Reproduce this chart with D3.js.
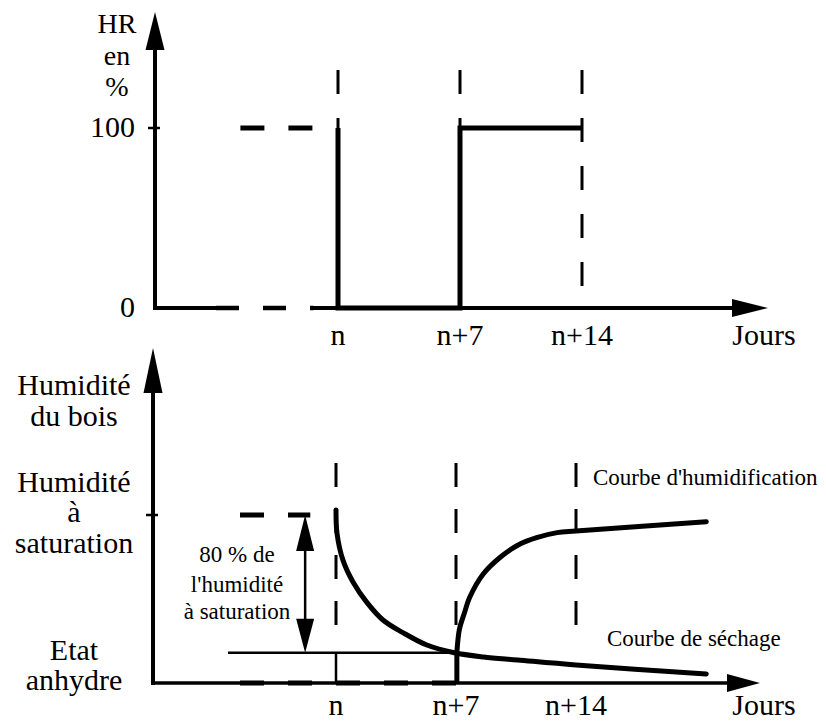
<!DOCTYPE html>
<html>
<head>
<meta charset="utf-8">
<script src="https://cdn.jsdelivr.net/npm/d3@7/dist/d3.min.js"></script>
<style>
  html, body { margin: 0; padding: 0; background: #fff; }
  svg { display: block; }
</style>
</head>
<body>
<script>
// ---------- DATA ----------
const tickDays = [0, 7, 14];
const tickLabels = ["n", "n+7", "n+14"];
const axisXLabel = "Jours";

// Top chart: relative humidity (HR en %)
const hrYTicks = [0, 100];
const hrDays = [0, 0, 7, 7, 14];
const hrValues = [100, 0, 0, 100, 100];
const hrBeforeDays = [-5.6, -1.4];        // dashed 100 % before n
const hrBeforeValues = [100, 100];
const hrZeroBeforeDays = [-7.0, -1.4];    // dashed 0 % before n
const hrZeroBeforeValues = [0, 0];

// Bottom chart: wood moisture (% of saturation moisture)
const woodSatValue = 100;
const woodThreshold = 18;                 // level after 80 % loss
const dryDays =   [0, 0.06, 0.41, 1.0, 1.8, 2.74, 3.9, 5.3, 6.9, 8.6, 10.6, 14, 21.6];
const dryValues = [103, 89, 73, 60, 48, 37.5, 30, 22.6, 18, 15.5, 13.7, 10.7, 5.4];
const wetJumpDays = [7.05, 7.05];
const wetJumpValues = [0, 18];
const wetDays =   [7.05, 7.2, 7.5, 7.8, 8.6, 9.6, 10.6, 11.7, 12.9, 14, 21.6];
const wetValues = [18, 32, 42, 51, 65, 75, 82, 86.5, 89.5, 90.5, 96];
const baseDashDays = [-5.6, 7.05];
const satDashDays = [-5.6, -1.5];
const thresholdDays = [-6.3, 7.05];
const arrowDay = -1.8;

// ---------- SVG ----------
const FONT = '"Liberation Serif"';
const svg = d3.select("body").append("svg").attr("width", 826).attr("height", 724);
svg.append("rect").attr("width", 826).attr("height", 724).attr("fill", "#fff");

const BIG = 30, MID = 28, SMALL = 23;
function txt(g, x, y, s, size, anchor) {
  return g.append("text").attr("x", x).attr("y", y).style("font-family", FONT)
    .attr("font-size", size).attr("text-anchor", anchor || "middle").attr("fill", "#000").text(s);
}
function arrowUp(g, x, yTip, yBase, half) {
  g.append("path").attr("d", `M${x - half},${yBase}L${x + half},${yBase}L${x},${yTip}Z`).attr("fill", "#000");
}
function arrowRight(g, y, xTip, xBase, half) {
  g.append("path").attr("d", `M${xBase},${y - half}L${xBase},${y + half}L${xTip},${y}Z`).attr("fill", "#000");
}
function arrowDown(g, x, yTip, yBase, half) {
  g.append("path").attr("d", `M${x - half},${yBase}L${x + half},${yBase}L${x},${yTip}Z`).attr("fill", "#000");
}

// ================= TOP CHART =================
const gTop = svg.append("g");
const xT = d3.scaleLinear().domain([0, 14]).range([338, 582]);
const yT = d3.scaleLinear().domain([0, 100]).range([308, 128]);
const axT = 155;

const lineT = d3.line().x(d => xT(d[0])).y(d => yT(d[1]));

// vertical dashed guides
tickDays.forEach(d => {
  gTop.append("line").attr("x1", xT(d)).attr("x2", xT(d)).attr("y1", 70).attr("y2", yT(0))
    .attr("stroke", "#000").attr("stroke-width", 3).attr("stroke-dasharray", "24,24");
});

// y axis
gTop.append("line").attr("x1", axT).attr("x2", axT).attr("y1", yT(0) + 2).attr("y2", 45)
  .attr("stroke", "#000").attr("stroke-width", 4);
arrowUp(gTop, axT, 12, 50, 9.5);
gTop.append("line").attr("x1", axT - 7).attr("x2", axT + 5).attr("y1", yT(100)).attr("y2", yT(100))
  .attr("stroke", "#000").attr("stroke-width", 2.5);

// x axis (broken before n)
gTop.append("line").attr("x1", axT).attr("x2", xT(-7.0)).attr("y1", yT(0)).attr("y2", yT(0))
  .attr("stroke", "#000").attr("stroke-width", 4);
gTop.append("path").attr("d", lineT(hrZeroBeforeDays.map((d, i) => [d, hrZeroBeforeValues[i]])))
  .attr("fill", "none").attr("stroke", "#000").attr("stroke-width", 4.5).attr("stroke-dasharray", "23,24");
gTop.append("line").attr("x1", 313).attr("x2", 735).attr("y1", yT(0)).attr("y2", yT(0))
  .attr("stroke", "#000").attr("stroke-width", 4);
arrowRight(gTop, yT(0), 768, 732, 9);

// dashed 100 before n
gTop.append("path").attr("d", lineT(hrBeforeDays.map((d, i) => [d, hrBeforeValues[i]])))
  .attr("fill", "none").attr("stroke", "#000").attr("stroke-width", 5).attr("stroke-dasharray", "24,24");

// HR step line
gTop.append("path").attr("d", lineT(hrDays.map((d, i) => [d, hrValues[i]])))
  .attr("fill", "none").attr("stroke", "#000").attr("stroke-width", 5).attr("stroke-linejoin", "miter");

// labels
txt(gTop, 117, 33, "HR", MID);
txt(gTop, 117, 65, "en", MID);
txt(gTop, 117, 96, "%", MID);
hrYTicks.forEach(v => txt(gTop, 135, yT(v) + 9, String(v), BIG, "end"));
tickDays.forEach((d, i) => txt(gTop, xT(d), 345, tickLabels[i], BIG));
txt(gTop, 764, 345, axisXLabel, BIG);

// ================= BOTTOM CHART =================
const gBot = svg.append("g");
const xB = d3.scaleLinear().domain([0, 14]).range([336, 576]);
const yB = d3.scaleLinear().domain([0, 100]).range([683, 515]);
const axB = 153;
const lineB = d3.line().x(d => xB(d[0])).y(d => yB(d[1]));
const curveB = d3.line().x(d => xB(d[0])).y(d => yB(d[1])).curve(d3.curveCatmullRom.alpha(0.5));

// vertical dashed guides
tickDays.forEach(d => {
  gBot.append("line").attr("x1", xB(d)).attr("x2", xB(d)).attr("y1", 463).attr("y2", 640)
    .attr("stroke", "#000").attr("stroke-width", 3).attr("stroke-dasharray", "24,22");
});

// y axis
gBot.append("line").attr("x1", axB).attr("x2", axB).attr("y1", yB(0) + 2).attr("y2", 388)
  .attr("stroke", "#000").attr("stroke-width", 4);
arrowUp(gBot, axB, 348, 393, 9.5);
gBot.append("line").attr("x1", axB - 7).attr("x2", axB + 5).attr("y1", yB(woodSatValue)).attr("y2", yB(woodSatValue))
  .attr("stroke", "#000").attr("stroke-width", 2.5);

// x axis
gBot.append("line").attr("x1", axB - 2).attr("x2", 730).attr("y1", yB(0)).attr("y2", yB(0))
  .attr("stroke", "#000").attr("stroke-width", 3.5);
arrowRight(gBot, yB(0), 760, 727, 9);

// thick dashes along baseline
gBot.append("path").attr("d", lineB(baseDashDays.map(d => [d, 0])))
  .attr("fill", "none").attr("stroke", "#000").attr("stroke-width", 5).attr("stroke-dasharray", "24,24");

// dashed saturation level
gBot.append("path").attr("d", lineB(satDashDays.map(d => [d, woodSatValue])))
  .attr("fill", "none").attr("stroke", "#000").attr("stroke-width", 5).attr("stroke-dasharray", "24,24");

// threshold thin line
gBot.append("path").attr("d", lineB(thresholdDays.map(d => [d, woodThreshold])))
  .attr("fill", "none").attr("stroke", "#000").attr("stroke-width", 2.5);
gBot.append("line").attr("x1", xB(0)).attr("x2", xB(0)).attr("y1", yB(woodThreshold)).attr("y2", yB(0))
  .attr("stroke", "#000").attr("stroke-width", 2.5);

// double arrow 80 %
const ax = xB(arrowDay);
gBot.append("line").attr("x1", ax).attr("x2", ax).attr("y1", yB(woodSatValue) + 30).attr("y2", yB(woodThreshold) - 30)
  .attr("stroke", "#000").attr("stroke-width", 2.5);
arrowUp(gBot, ax, yB(woodSatValue), yB(woodSatValue) + 36, 9);
arrowDown(gBot, ax, yB(woodThreshold), yB(woodThreshold) - 34, 9);

// drying curve
gBot.append("path").attr("d", curveB(dryDays.map((d, i) => [d, dryValues[i]])))
  .attr("fill", "none").attr("stroke", "#000").attr("stroke-width", 5).attr("stroke-linecap", "round");

// wetting curve
gBot.append("path").attr("d", lineB(wetJumpDays.map((d, i) => [d, wetJumpValues[i]])))
  .attr("fill", "none").attr("stroke", "#000").attr("stroke-width", 5);
gBot.append("path").attr("d", curveB(wetDays.map((d, i) => [d, wetValues[i]])))
  .attr("fill", "none").attr("stroke", "#000").attr("stroke-width", 5).attr("stroke-linecap", "round");

// left labels
const leftLabels = [["Humidité", 395], ["du bois", 426], ["Humidité", 492], ["à", 522], ["saturation", 553], ["Etat", 660], ["anhydre", 690]];
leftLabels.forEach(([t, y]) => txt(gBot, 74, y, t, BIG));

// annotation
const annot = [["80 % de", 562], ["l'humidité", 592], ["à saturation", 619]];
annot.forEach(([t, y]) => txt(gBot, 237, y, t, SMALL));
txt(gBot, 593, 485, "Courbe d'humidification", SMALL, "start");
txt(gBot, 607, 646, "Courbe de séchage", SMALL, "start");

// x labels
tickDays.forEach((d, i) => txt(gBot, xB(d), 715, tickLabels[i], BIG));
txt(gBot, 764, 715, axisXLabel, BIG);
</script>
</body>
</html>
